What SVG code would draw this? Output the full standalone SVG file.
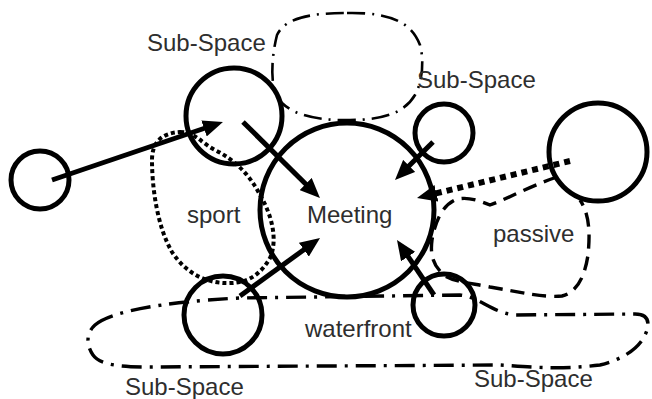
<svg xmlns="http://www.w3.org/2000/svg" width="652" height="399" viewBox="0 0 652 399">
<style>
.c{fill:none;stroke:#000;stroke-width:5}
.t{font-family:"Liberation Sans",Arial,sans-serif;font-size:24px;fill:#2e2e2e}
.dd{fill:none;stroke:#000;stroke-width:2.6;stroke-dasharray:18 7 2 7}
.dd2{fill:none;stroke:#000;stroke-width:3.4;stroke-dasharray:20 8 3 8}
.ds{fill:none;stroke:#000;stroke-width:3.4;stroke-dasharray:14 8}
.dt{fill:none;stroke:#000;stroke-width:4;stroke-dasharray:4 3}
.a{fill:none;stroke:#000;stroke-width:5;marker-end:url(#ah)}
.ad{fill:none;stroke:#000;stroke-width:6;stroke-dasharray:6 5;marker-end:url(#ah)}
</style>
<defs>
<marker id="ah" viewBox="0 0 20 17" markerWidth="20" markerHeight="17" refX="6" refY="8.5" orient="auto" markerUnits="userSpaceOnUse">
<path d="M0,0 L20,8.5 L0,17 Z" fill="#000"/>
</marker>
</defs>
<rect width="652" height="399" fill="#fff"/>
<g id="region-subspace-top">
<path class="dd" d="M347,13 C395,12 412,25 420,45 C424,60 423,80 415,95 C405,112 385,120 350,120 C310,121 285,112 276,95 C270,80 272,55 277,35 C285,18 310,13 347,13 Z"/>
</g>
<g id="region-waterfront">
<path class="dd2" d="M95,325 C110,312 160,302 240,298 L460,295 C480,297 490,312 515,315 L635,314 C650,314 650,325 645,335 C638,350 620,360 600,365 C560,370 530,367 500,365 L150,367 C120,367 100,365 93,355 C86,345 86,333 95,325 Z"/>
<text class="t" x="305" y="337">waterfront</text>
</g>
<g id="region-passive">
<path class="ds" d="M557,177 C530,186 505,200 490,205 C478,200 465,196 455,200 C442,206 435,222 432,240 C430,255 433,266 445,276 C455,282 470,283 490,287 C520,292 545,298 562,296 C578,292 585,275 588,255 C590,235 590,215 580,200"/>
<text class="t" x="493" y="242">passive</text>
</g>
<g id="region-sport">
<path class="dt" d="M180,132 C195,132 200,142 215,150 C235,160 250,175 260,195 C272,215 278,240 270,258 C262,272 250,283 230,283 C205,284 185,272 172,252 C158,228 152,190 152,160 C152,142 162,133 180,132 Z"/>
<text class="t" x="187" y="223">sport</text>
</g>
<g id="node-meeting">
<circle class="c" cx="347" cy="210" r="87" stroke-width="5.5"/>
<text class="t" x="307" y="223">Meeting</text>
</g>
<g id="node-left">
<circle class="c" cx="40" cy="180" r="29"/>
</g>
<g id="node-topleft">
<circle class="c" cx="234" cy="116" r="48"/>
<text class="t" x="147" y="51">Sub-Space</text>
</g>
<g id="node-topright">
<circle class="c" cx="444" cy="133" r="29"/>
<text class="t" x="417" y="88">Sub-Space</text>
</g>
<g id="node-right">
<circle class="c" cx="598" cy="152" r="49"/>
</g>
<g id="node-bottomleft">
<circle class="c" cx="223" cy="315" r="39"/>
<text class="t" x="125" y="395">Sub-Space</text>
</g>
<g id="node-bottomright">
<circle class="c" cx="444" cy="305" r="31"/>
<text class="t" x="474" y="387">Sub-Space</text>
</g>
<g id="connectors">
<line class="a" x1="52" y1="180" x2="209.7" y2="126.5"/>
<line class="a" x1="243" y1="122" x2="310" y2="188.2"/>
<line class="a" x1="433" y1="142" x2="404.9" y2="170.1"/>
<line class="a" x1="240" y1="296" x2="308.7" y2="246.2"/>
<line class="a" x1="434" y1="295" x2="404.8" y2="251.6"/>
<line class="ad" x1="570" y1="161" x2="430.6" y2="194.7"/>
</g>
</svg>
